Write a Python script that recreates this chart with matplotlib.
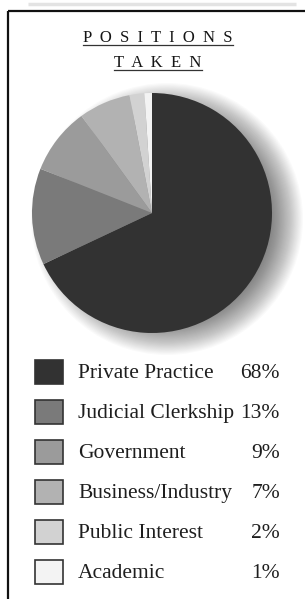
import matplotlib
matplotlib.use("Agg")
import matplotlib.pyplot as plt
from matplotlib.patches import Circle, Rectangle

# ---- data ----
categories = ["Private Practice", "Judicial Clerkship", "Government",
              "Business/Industry", "Public Interest", "Academic"]
values = [68, 13, 9, 7, 2, 1]
value_labels = ["68%", "13%", "9%", "7%", "2%", "1%"]
title_lines = ["P  O  S  I  T  I  O  N  S", "T  A  K  E  N"]

colors = ["#323232", "#7a7a7a", "#9b9b9b", "#b2b2b2", "#d2d2d2", "#f3f3f3"]

W, H = 305, 599
fig = plt.figure(figsize=(W / 100, H / 100), dpi=100)
ax = fig.add_axes([0, 0, 1, 1])
ax.set_xlim(0, W)
ax.set_ylim(0, H)
ax.axis("off")

def Y(py):
    return H - py

serif = ["Liberation Serif", "DejaVu Serif"]

# ---- frame ----
ax.plot([28, 296], [Y(4), Y(4)], color="#e3e3e3", lw=2.5, solid_capstyle="butt", zorder=1)
ax.plot([8, W], [Y(11), Y(11)], color="#111111", lw=1.6, solid_capstyle="butt", zorder=5)
ax.plot([8, 8], [Y(11), 0], color="#111111", lw=1.6, solid_capstyle="butt", zorder=5)

# ---- title ----
tx = 158
title_texts = []
for line, base in zip(title_lines, [42, 67]):
    t = ax.text(tx, Y(base), line, ha="center", va="baseline", fontsize=12,
                family=serif, color="#151515", zorder=6)
    title_texts.append(t)
fig.canvas.draw()
r = fig.canvas.get_renderer()
for t, ul in zip(title_texts, [44.5, 70]):
    bb = t.get_window_extent(r).transformed(ax.transData.inverted())
    ax.plot([bb.x0, bb.x1], [Y(ul), Y(ul)], color="#333333", lw=0.9, zorder=6)

# ---- pie with soft shadow ----
cx, cy, R = 152, 213, 120
sx, sy = cx + 15, cy + 6
n = 34
for k in range(n):
    rr = 136 - k * (38 / n)
    ax.add_patch(Circle((sx, Y(sy)), rr, facecolor="black", edgecolor="none",
                        alpha=0.021, zorder=2))

ax.pie(values, colors=colors, startangle=90, counterclock=False,
       center=(cx, Y(cy)), radius=R, wedgeprops=dict(linewidth=0, zorder=3))
ax.set_xlim(0, W)
ax.set_ylim(0, H)
ax.set_aspect("auto")
ax.axis("off")

# ---- legend ----
row0, step = 372, 40
for i, (cat, col, lab) in enumerate(zip(categories, colors, value_labels)):
    yc = row0 + i * step
    ax.add_patch(Rectangle((35, Y(yc + 12)), 28, 24, facecolor=col,
                           edgecolor="#333333", lw=1.2, zorder=4))
    ax.text(78, Y(yc + 6), cat, ha="left", va="baseline", fontsize=15.5,
            family=serif, color="#1e1e1e", zorder=6)
    ax.text(280, Y(yc + 6), lab, ha="right", va="baseline", fontsize=15.5,
            family=serif, color="#1e1e1e", zorder=6)

fig.savefig("out.png", dpi=100, facecolor="white")
